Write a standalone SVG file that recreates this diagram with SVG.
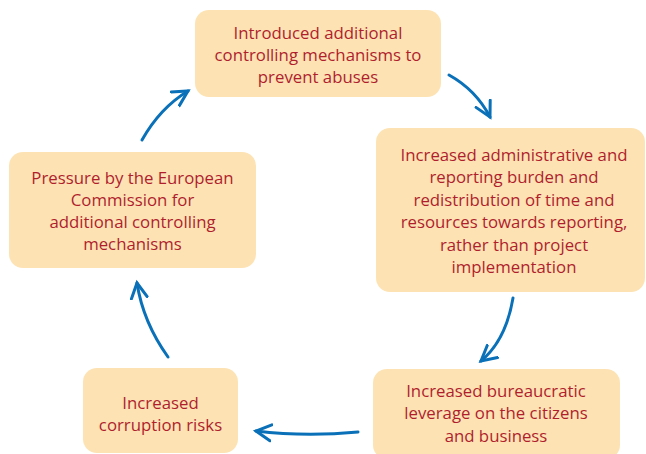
<svg xmlns="http://www.w3.org/2000/svg" width="646" height="454" viewBox="0 0 646 454">
<style>
.box{fill:#FDE3B4;}
.t{font-family:"Open Sans","Liberation Sans",sans-serif;font-size:16.8px;fill:#B01E2D;text-anchor:middle;}
.arr{fill:none;stroke:#0A70B8;stroke-width:3;stroke-linecap:round;marker-end:url(#ah);}
</style>
<defs>
<marker id="ah" markerUnits="userSpaceOnUse" markerWidth="30" markerHeight="30" viewBox="-16 -15 30 30" refX="0" refY="0" orient="auto">
<path d="M-15,-8 L0,0 L-15,8" fill="none" stroke="#0A70B8" stroke-width="3" stroke-linecap="round" stroke-linejoin="miter"/>
</marker>
</defs>
<rect width="646" height="454" fill="#ffffff"/>
<g id="n1">
<rect class="box" x="195" y="10" width="246" height="87" rx="14"/>
<text class="t" x="318" y="39">Introduced additional</text>
<text class="t" x="318" y="61">controlling mechanisms to</text>
<text class="t" x="318" y="83">prevent abuses</text>
</g>
<g id="n2">
<rect class="box" x="376" y="128" width="269" height="164" rx="14"/>
<text class="t" x="514" y="161">Increased administrative and</text>
<text class="t" x="514" y="183.4">reporting burden and</text>
<text class="t" x="514" y="205.8">redistribution of time and</text>
<text class="t" x="514" y="228.2">resources towards reporting,</text>
<text class="t" x="514" y="250.6">rather than project</text>
<text class="t" x="514" y="273">implementation</text>
</g>
<g id="n3">
<rect class="box" x="373" y="369" width="247" height="90" rx="14"/>
<text class="t" x="496" y="397">Increased bureaucratic</text>
<text class="t" x="496" y="419">leverage on the citizens</text>
<text class="t" x="496" y="442">and business</text>
</g>
<g id="n4">
<rect class="box" x="83" y="368" width="155" height="85" rx="14"/>
<text class="t" x="160.5" y="409">Increased</text>
<text class="t" x="160.5" y="431">corruption risks</text>
</g>
<g id="n5">
<rect class="box" x="9" y="152" width="247" height="116" rx="14"/>
<text class="t" x="132.5" y="184">Pressure by the European</text>
<text class="t" x="132.5" y="206">Commission for</text>
<text class="t" x="132.5" y="228">additional controlling</text>
<text class="t" x="132.5" y="250">mechanisms</text>
</g>
<g id="connectors">
<path class="arr" d="M449,75 Q476,90 490,117"/>
<path class="arr" d="M513,298 Q506,340 481,361"/>
<path class="arr" d="M358,432 Q305,437 256,431"/>
<path class="arr" d="M168,357 Q143,322 137,283"/>
<path class="arr" d="M142,140 Q160,108 188,91"/>
</g>
</svg>
